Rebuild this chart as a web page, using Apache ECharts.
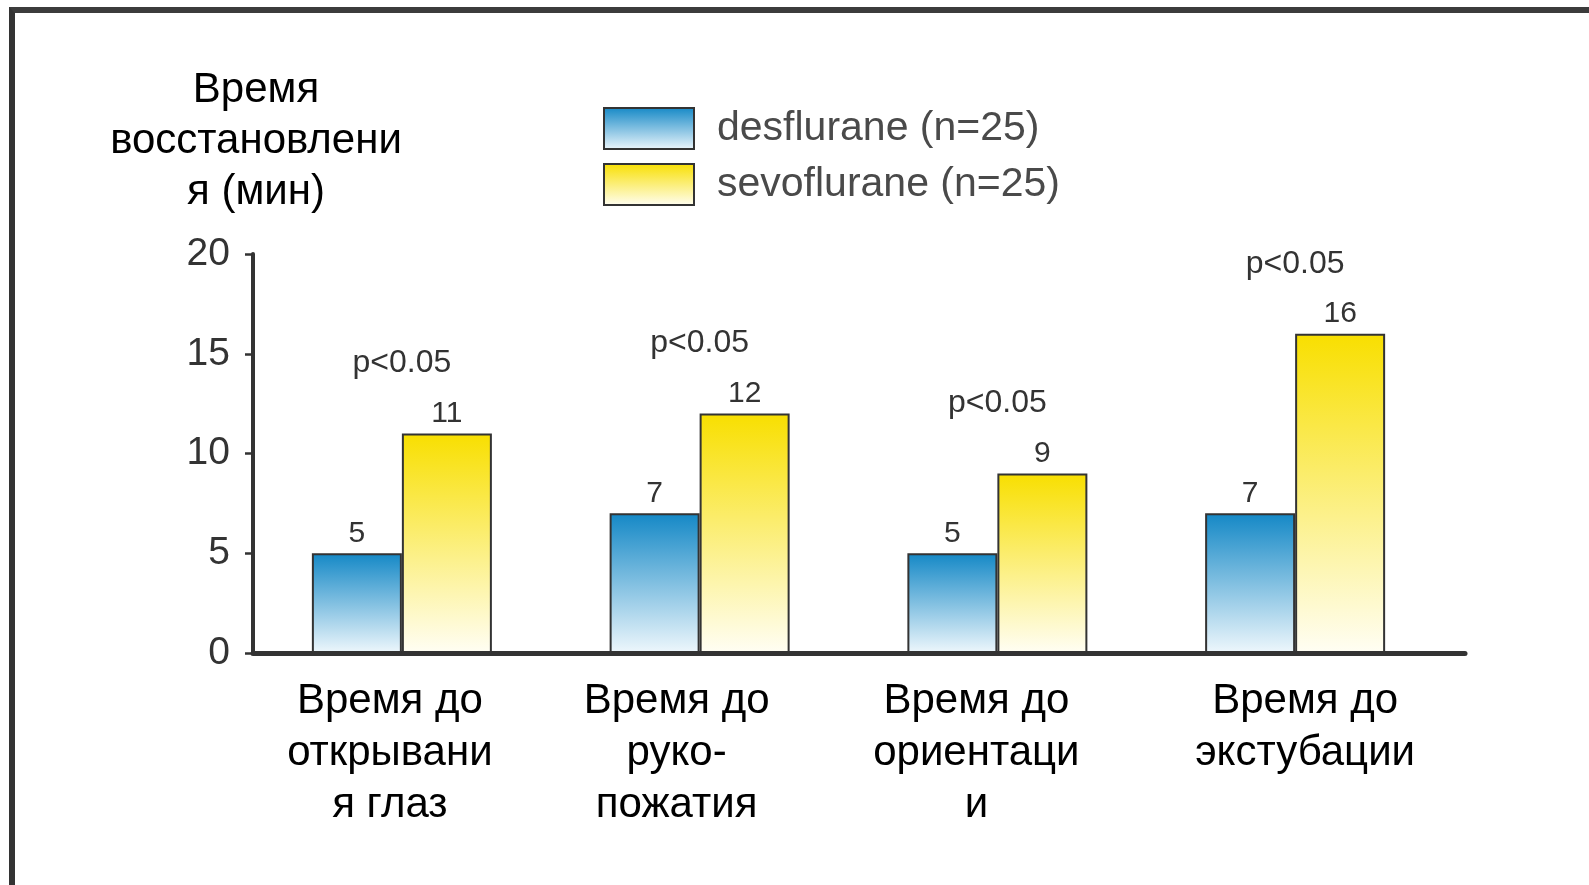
<!DOCTYPE html>
<html>
<head>
<meta charset="utf-8">
<script src="https://cdn.jsdelivr.net/npm/echarts@6/dist/echarts.min.js"></script>
<style>
  html, body { margin: 0; padding: 0; background: #ffffff; }
  #chart { position: absolute; left: 0; top: 0; width: 1589px; height: 885px; }
  #frame { position: absolute; left: 9px; top: 7px; right: -20px; bottom: -20px;
           border-top: 6px solid #3c3c3c; border-left: 6px solid #333333; pointer-events: none; }
</style>
</head>
<body>
<div id="chart"></div>
<div id="frame"></div>
<script>
const categories = [
  'Время до\nоткрывани\nя глаз',
  'Время до\nруко-\nпожатия',
  'Время до\nориентаци\nи',
  'Время до\nэкстубации'
];
const seriesNames = ['desflurane (n=25)', 'sevoflurane (n=25)'];
const desflurane = [5, 7, 5, 7];
const sevoflurane = [11, 12, 9, 16];
const pLabels = ['p<0.05', 'p<0.05', 'p<0.05', 'p<0.05'];
const yTicks = { min: 0, max: 20, interval: 5 };
const yTitle = 'Время\nвосстановлени\nя (мин)';

const FONT = 'Liberation Sans, Arial, Helvetica, sans-serif';

// label padding (style only) to nudge each category caption as in the original slide
const catLabelPadding = [[0, 24, 0, 0], [0, 46, 0, 0], [0, 42, 0, 0], [0, 0, 0, 20]];

const blueGrad = new echarts.graphic.LinearGradient(0, 0, 0, 1, [
  { offset: 0, color: '#1488c6' },
  { offset: 1, color: '#eef7fc' }
]);
const yellowGrad = new echarts.graphic.LinearGradient(0, 0, 0, 1, [
  { offset: 0, color: '#f8df00' },
  { offset: 1, color: '#fffef4' }
]);

const chart = echarts.init(document.getElementById('chart'), null, { renderer: 'canvas' });

const option = {
  backgroundColor: '#ffffff',
  animation: false,
  textStyle: { fontFamily: FONT },
  legend: {
    orient: 'vertical',
    left: 598,
    top: 102,
    itemWidth: 90,
    itemHeight: 41,
    itemGap: 13,
    icon: 'rect',
    data: seriesNames,
    textStyle: { fontSize: 41, lineHeight: 41, color: '#4a4a4a', fontFamily: FONT, padding: [0, 0, 0, 18] },
    selectedMode: false
  },
  grid: [
    { left: 253, top: 254, right: 145, bottom: 232, containLabel: false },
    { left: 253, top: 254, right: 124, bottom: 232, containLabel: false }
  ],
  xAxis: [
    {
      type: 'category',
      gridIndex: 0,
      data: categories.map((c, i) => ({ value: c, textStyle: { padding: catLabelPadding[i] } })),
      axisLine: { show: false },
      axisTick: { show: false },
      axisLabel: { fontSize: 42, lineHeight: 52, color: '#000000', margin: 22, fontFamily: FONT, interval: 0 }
    },
    {
      type: 'value',
      gridIndex: 1,
      min: 0, max: 1,
      axisLine: { show: true, onZero: false, lineStyle: { color: '#333333', width: 5 } },
      axisTick: { show: false },
      axisLabel: { show: false },
      splitLine: { show: false }
    }
  ],
  yAxis: [
    {
      type: 'value',
      gridIndex: 0,
      min: yTicks.min,
      max: yTicks.max,
      interval: yTicks.interval,
      name: yTitle,
      nameLocation: 'end',
      nameGap: 36,
      nameTextStyle: { fontSize: 42, lineHeight: 51, color: '#000000', align: 'center', verticalAlign: 'bottom', fontFamily: FONT, padding: [0, 0, 0, 6] },
      axisLine: { show: true, lineStyle: { color: '#333333', width: 4 } },
      axisTick: { show: true, inside: false, length: 8, lineStyle: { color: '#333333', width: 2.5 } },
      axisLabel: { fontSize: 39, color: '#333333', margin: 23, fontFamily: FONT },
      splitLine: { show: false }
    },
    {
      type: 'value',
      gridIndex: 1,
      min: 0, max: 1,
      show: false
    }
  ],
  series: [
    {
      name: seriesNames[0],
      type: 'bar',
      xAxisIndex: 0, yAxisIndex: 0,
      data: desflurane,
      barWidth: 90,
      barGap: '0%',
      itemStyle: { color: blueGrad, borderColor: '#333333', borderWidth: 2 },
      label: { show: true, position: 'top', distance: 5, fontSize: 30, color: '#333333', fontFamily: FONT }
    },
    {
      name: seriesNames[1],
      type: 'bar',
      xAxisIndex: 0, yAxisIndex: 0,
      data: sevoflurane,
      barWidth: 90,
      barGap: '0%',
      itemStyle: { color: yellowGrad, borderColor: '#333333', borderWidth: 2 },
      label: { show: true, position: 'top', distance: 5, fontSize: 30, color: '#333333', fontFamily: FONT }
    },
    {
      name: 'p',
      type: 'scatter',
      xAxisIndex: 0, yAxisIndex: 0,
      data: sevoflurane,
      symbolSize: 0,
      silent: true,
      itemStyle: { opacity: 1 },
      label: {
        show: true,
        position: 'top',
        distance: 54,
        fontSize: 32,
        color: '#333333',
        opacity: 1,
        fontFamily: FONT,
        formatter: (p) => pLabels[p.dataIndex]
      }
    }
  ]
};

chart.setOption(option);
</script>
</body>
</html>
